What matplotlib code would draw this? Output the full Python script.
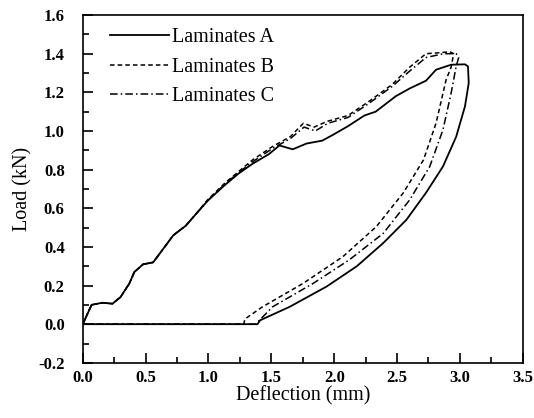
import matplotlib.pyplot as plt
from matplotlib.ticker import MultipleLocator

plt.rcParams['font.family'] = 'Liberation Serif'

# Laminates A (loading then unloading, back along zero)
a_x = [0.0, 0.07, 0.155, 0.236, 0.30, 0.37, 0.41, 0.48, 0.56, 0.64, 0.72, 0.82, 0.90, 0.995,
       1.13, 1.24, 1.35, 1.48, 1.565, 1.67, 1.78, 1.905, 1.99, 2.11, 2.24, 2.33, 2.49, 2.60,
       2.73, 2.81, 2.93, 3.04, 3.064, 3.07, 3.04, 2.97, 2.865, 2.73, 2.574, 2.39, 2.18, 1.94,
       1.646, 1.41, 1.39, 0.0]
a_y = [0.0, 0.10, 0.111, 0.106, 0.14, 0.21, 0.27, 0.31, 0.32, 0.39, 0.46, 0.51, 0.57, 0.64,
       0.72, 0.78, 0.83, 0.88, 0.925, 0.905, 0.935, 0.95, 0.98, 1.025, 1.08, 1.10, 1.18, 1.22,
       1.26, 1.317, 1.343, 1.345, 1.334, 1.248, 1.127, 0.97, 0.816, 0.68, 0.54, 0.42, 0.30, 0.195,
       0.09, 0.02, 0.0, 0.0]

# Laminates B
b_x = [0.0, 0.07, 0.155, 0.236, 0.30, 0.37, 0.41, 0.48, 0.56, 0.64, 0.72, 0.82, 0.90, 0.995,
       1.13, 1.24, 1.35, 1.51, 1.65, 1.755, 1.84, 1.945, 2.11, 2.27, 2.46, 2.60, 2.73, 2.84,
       2.92, 2.95, 2.93, 2.89, 2.81, 2.71, 2.55, 2.335, 2.07, 1.75, 1.43, 1.29, 1.28, 0.0]
b_y = [0.0, 0.10, 0.111, 0.106, 0.14, 0.21, 0.27, 0.31, 0.32, 0.39, 0.46, 0.51, 0.57, 0.645,
       0.73, 0.79, 0.85, 0.92, 0.97, 1.04, 1.02, 1.05, 1.08, 1.15, 1.24, 1.33, 1.40, 1.405,
       1.41, 1.40, 1.33, 1.265, 1.04, 0.85, 0.68, 0.505, 0.35, 0.21, 0.09, 0.027, 0.0, 0.0]

# Laminates C
c_x = [0.0, 0.07, 0.155, 0.236, 0.30, 0.37, 0.41, 0.48, 0.56, 0.64, 0.72, 0.82, 0.90, 0.995,
       1.13, 1.24, 1.35, 1.51, 1.65, 1.76, 1.85, 1.95, 2.11, 2.27, 2.46, 2.60, 2.73, 2.87,
       2.97, 2.99, 2.97, 2.93, 2.865, 2.76, 2.60, 2.39, 2.12, 1.83, 1.51, 1.375, 0.0]
c_y = [0.0, 0.10, 0.111, 0.106, 0.14, 0.21, 0.27, 0.31, 0.32, 0.39, 0.46, 0.51, 0.57, 0.64,
       0.725, 0.785, 0.84, 0.91, 0.96, 1.02, 1.00, 1.04, 1.07, 1.14, 1.23, 1.31, 1.38, 1.40,
       1.40, 1.38, 1.334, 1.196, 1.006, 0.816, 0.643, 0.47, 0.333, 0.21, 0.09, 0.0, 0.0]

x_ticks = [0.0, 0.5, 1.0, 1.5, 2.0, 2.5, 3.0, 3.5]
y_ticks = [-0.2, 0.0, 0.2, 0.4, 0.6, 0.8, 1.0, 1.2, 1.4, 1.6]

fig, ax = plt.subplots(figsize=(5.34, 4.18), dpi=100)
fig.subplots_adjust(left=0.155, right=0.979, top=0.964, bottom=0.132)

ax.plot(a_x, a_y, color='black', lw=1.3, ls='-', label='Laminates A')
ax.plot(b_x, b_y, color='black', lw=1.1, ls=(0, (3, 2)), label='Laminates B')
ax.plot(c_x, c_y, color='black', lw=1.1, ls=(0, (5, 2, 1, 2)), label='Laminates C')

ax.set_xlim(0, 3.5)
ax.set_ylim(-0.2, 1.6)
ax.set_xticks(x_ticks)
ax.set_yticks(y_ticks)
ax.set_xticklabels([f'{v:.1f}' for v in x_ticks], fontsize=12, fontweight='bold')
ax.set_yticklabels([f'{v:.1f}' for v in y_ticks], fontsize=12, fontweight='bold')
ax.xaxis.set_minor_locator(MultipleLocator(0.25))
ax.yaxis.set_minor_locator(MultipleLocator(0.1))
ax.tick_params(which='both', direction='in', top=False, right=False, width=1.2)
ax.tick_params(which='major', length=7)
ax.tick_params(which='minor', length=4)
ax.tick_params(axis='x', which='major', pad=5)
ax.tick_params(axis='y', which='major', pad=13)
for s in ax.spines.values():
    s.set_linewidth(1.2)

ax.set_xlabel('Deflection (mm)', fontsize=14.5, labelpad=0)
ax.set_ylabel('Load (kN)', fontsize=14.5)

ax.legend(loc='upper left', frameon=False, fontsize=14.5, handlelength=2.9,
          handletextpad=0.15, labelspacing=0.5, borderaxespad=0.0,
          bbox_to_anchor=(0.044, 0.985))

plt.savefig('out.png', dpi=100)
